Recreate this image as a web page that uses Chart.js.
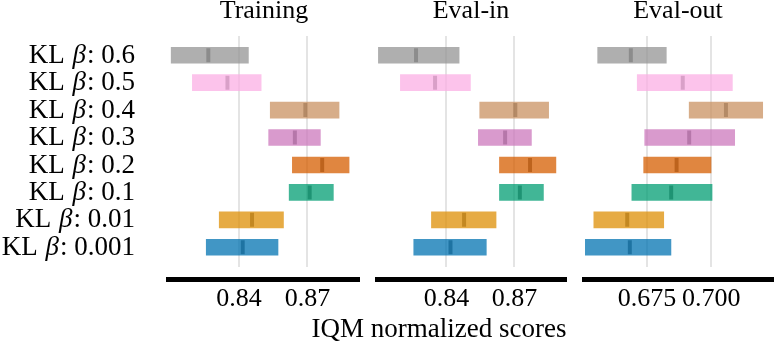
<!DOCTYPE html>
<html>
<head>
<meta charset="utf-8">
<script src="https://cdn.jsdelivr.net/npm/chart.js@4.4.1/dist/chart.umd.min.js"></script>
<style>
  body { margin: 0; background: #fff; }
  #wrap { position: relative; width: 777px; height: 346px; }
  canvas { position: absolute; top: 0; }
  #xtitle {
    position: absolute; left: 289px; top: 315px; width: 300px;
    text-align: center; white-space: nowrap;
    font-family: "Liberation Serif"; font-size: 27px; line-height: 27px; color: #000;
  }
</style>
</head>
<body>
<div id="wrap">
  <canvas id="graficoTraining" width="360" height="346" style="left:0"></canvas>
  <canvas id="graficoEvalIn" width="192" height="346" style="left:375px"></canvas>
  <canvas id="graficoEvalOut" width="192" height="346" style="left:582px"></canvas>
  <div id="xtitle">IQM normalized scores</div>
</div>
<script>
// categories, top to bottom
const categorias = ['KL β: 0.6', 'KL β: 0.5', 'KL β: 0.4', 'KL β: 0.3',
                    'KL β: 0.2', 'KL β: 0.1', 'KL β: 0.01', 'KL β: 0.001'];

const cores = ['rgba(148,148,148,0.75)', 'rgba(251,175,228,0.75)', 'rgba(202,145,97,0.75)',
               'rgba(204,120,188,0.75)', 'rgba(213,94,0,0.75)', 'rgba(2,158,115,0.75)',
               'rgba(222,143,5,0.75)', 'rgba(1,115,178,0.75)'];

// Training
const trainLow  = [0.8102, 0.8195, 0.8537, 0.8530, 0.8634, 0.8620, 0.8313, 0.8256];
const trainHigh = [0.8441, 0.8497, 0.8839, 0.8757, 0.8883, 0.8814, 0.8595, 0.8571];
const trainMed  = [0.8265, 0.8349, 0.8691, 0.8645, 0.8765, 0.8710, 0.8457, 0.8416];

// Eval-in
const inLow  = [0.8100, 0.8197, 0.8547, 0.8541, 0.8634, 0.8634, 0.8334, 0.8256];
const inHigh = [0.8456, 0.8506, 0.8851, 0.8775, 0.8883, 0.8828, 0.8619, 0.8576];
const inMed  = [0.8266, 0.8350, 0.8704, 0.8659, 0.8769, 0.8724, 0.8478, 0.8418];

// Eval-out
const outLow  = [0.6558, 0.6712, 0.6914, 0.6741, 0.6737, 0.6691, 0.6543, 0.6510];
const outHigh = [0.6825, 0.7082, 0.7200, 0.7091, 0.6999, 0.7003, 0.6815, 0.6843];
const outMed  = [0.6687, 0.6889, 0.7057, 0.6914, 0.6865, 0.6844, 0.6673, 0.6683];

// x ticks
const ticksIn = [0.84, 0.87];
const ticksInLabels = ['0.84', '0.87'];
const ticksOut = [0.675, 0.700];
const ticksOutLabels = ['0.675', '0.700'];

const fonte = 'Liberation Serif';
const tam = 26;
const tamRotulo = 27;

const rotulosY = {
    id: 'rotulosY',
    afterDraw(chart) {
        const ctx = chart.ctx;
        const y = chart.scales.y;
        const normal = tamRotulo + 'px "' + fonte + '"';
        const italico = 'italic ' + tamRotulo + 'px "' + fonte + '"';
        ctx.save();
        ctx.fillStyle = '#000';
        ctx.textBaseline = 'middle';
        ctx.textAlign = 'left';
        categorias.forEach((lab, i) => {
            const partes = lab.split('β');
            const py = y.getPixelForValue(i) + 0.5;
            ctx.font = normal;
            const w0 = ctx.measureText(partes[0]).width + 1;
            const w2 = ctx.measureText(partes[1]).width;
            ctx.font = italico;
            const w1 = ctx.measureText('β').width + 1;
            const px = 135 - w0 - w1 - w2;
            ctx.font = normal;
            ctx.fillText(partes[0], px, py);
            ctx.font = italico;
            ctx.fillText('β', px + w0, py);
            ctx.font = normal;
            ctx.fillText(partes[1], px + w0 + w1, py);
        });
        ctx.restore();
    }
};

function semPadding(s) {
    s.paddingLeft = 0;
    s.paddingRight = 0;
}

function criarPainel(id, titulo, low, high, med, xmin, xmax, tickVals, tickLabels, padEsq, plugins) {
    const el = document.getElementById(id);
    return new Chart(el, {
        type: 'bar',
        data: {
            datasets: [{
                type: 'bar',
                indexAxis: 'y',
                xAxisID: 'x',
                yAxisID: 'y',
                data: low.map((v, i) => ({ x: [v, high[i]], y: i })),
                backgroundColor: cores,
                borderWidth: 0,
                barThickness: 16
            }, {
                type: 'scatter',
                xAxisID: 'x',
                yAxisID: 'y',
                data: med.map((v, i) => ({ x: v, y: i })),
                pointStyle: 'line',
                rotation: 90,
                radius: 7,
                borderWidth: 4,
                borderColor: 'rgba(0,0,0,0.55)'
            }]
        },
        options: {
            indexAxis: 'y',
            responsive: false,
            animation: false,
            events: [],
            layout: { autoPadding: false, padding: { left: padEsq, right: 0, top: 0, bottom: 27.3 } },
            plugins: {
                legend: { display: false },
                tooltip: { enabled: false },
                title: {
                    display: true,
                    text: titulo,
                    color: '#000',
                    font: { family: fonte, size: tam, weight: 'normal', lineHeight: 0.85 },
                    padding: { top: 0, bottom: 13.9 }
                }
            },
            scales: {
                y: {
                    type: 'linear',
                    reverse: true,
                    offset: false,
                    grid: { offset: false },
                    min: -0.7,
                    max: 7.7,
                    display: false
                },
                x: {
                    type: 'linear',
                    offset: false,
                    beginAtZero: false,
                    min: xmin,
                    max: xmax,
                    afterBuildTicks: (s) => { s.ticks = tickVals.map(v => ({ value: v })); },
                    afterFit: semPadding,
                    ticks: { display: false },
                    grid: { color: '#e4e4e4', lineWidth: 2, drawTicks: false, offset: false },
                    border: { display: false },
                    title: { display: true, text: '', font: { size: 1, lineHeight: 1 }, padding: { top: 0, bottom: 12 } }
                },
                x2: {
                    type: 'linear',
                    position: 'bottom',
                    weight: 1,
                    offset: false,
                    beginAtZero: false,
                    min: xmin,
                    max: xmax,
                    afterBuildTicks: (s) => { s.ticks = tickVals.map(v => ({ value: v })); },
                    afterFit: semPadding,
                    grid: { display: false, drawTicks: false, offset: false },
                    border: { display: true, color: '#000', width: 5 },
                    ticks: {
                        color: '#000',
                        padding: 4,
                        maxRotation: 0,
                        autoSkip: false,
                        font: { family: fonte, size: tam },
                        callback: (v, i) => tickLabels[i]
                    }
                }
            }
        },
        plugins: plugins
    });
}

criarPainel('graficoTraining', 'Training', trainLow, trainHigh, trainMed,
    0.8088, 0.8931, ticksIn, ticksInLabels, 168, [rotulosY]);
criarPainel('graficoEvalIn', 'Eval-in', inLow, inHigh, inMed,
    0.8085, 0.8932, ticksIn, ticksInLabels, 0, []);
criarPainel('graficoEvalOut', 'Eval-out', outLow, outHigh, outMed,
    0.6497, 0.7244, ticksOut, ticksOutLabels, 0, []);
</script>
</body>
</html>
